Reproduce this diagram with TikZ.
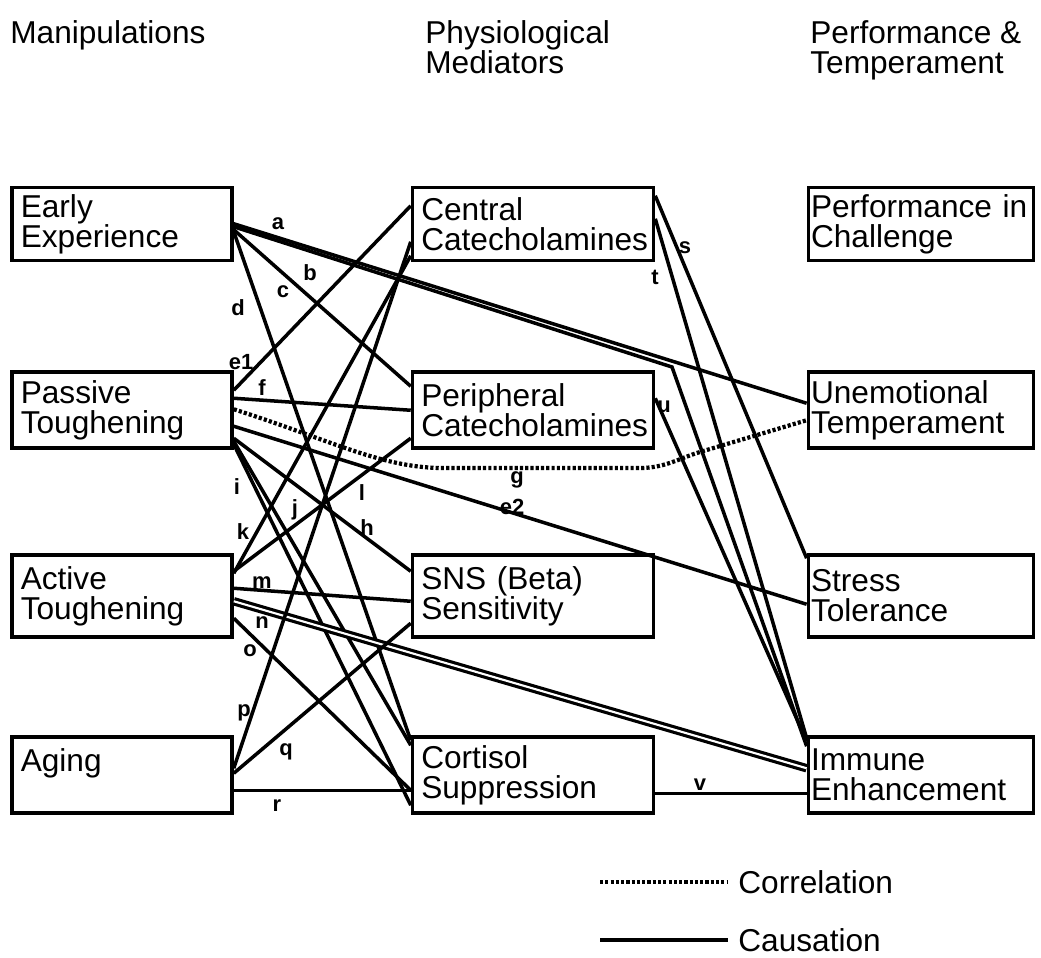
\documentclass[tikz,border=0pt]{standalone}
\usepackage{fontspec}
\setmainfont{Liberation Sans}
\usetikzlibrary{calc}

\begin{document}
\begin{tikzpicture}[
	x=0.02cm, y=-0.02cm,
	every node/.style={font=\fontsize{18}{17}\selectfont},
	box/.style={draw, line width=2pt, inner xsep=5pt, inner ysep=0pt, minimum height=1.52cm, align=left},
	leftbox/.style={box, text width=4.05cm},
	midbox/.style={box, text width=4.47cm},
	rightbox/.style={box, inner xsep=1.5pt, text width=4.4cm},
	head/.style={anchor=north west, inner sep=0pt, align=left},
	lab/.style={font=\fontsize{12.5}{12}\selectfont\bfseries, inner sep=0pt},
	cause/.style={line width=2pt},
	correl/.style={line width=2.4pt, dash pattern=on 1.8pt off 1.2pt},
] 
\useasboundingbox (0,0) rectangle (1041,957);

% column heads
\node[head] (manip) at (10,20) {Manipulations};
\node[head] (physio) at (425,20) {Physiological\\Mediators};
\node[head] (perfhead) at (810,20) {Performance \&\\Temperament};

% manipulations
\node[leftbox, minimum height=1.46cm] (early) at (122,224) {Early\\Experience};
\node[leftbox] (passive) at (122,410) {Passive\\Toughening};
\node[leftbox, minimum height=1.64cm] (active) at (122,596) {Active\\Toughening};
\node[leftbox] (aging) at (122,775) {Aging\\~};

% mediators
\node[midbox, minimum height=1.46cm] (central) at (533,224) {Central\\Catecholamines};
\node[midbox] (peri) at (533,410) {Peripheral\\Catecholamines};
\node[midbox, minimum height=1.64cm] (sns) at (533,596) {SNS (Beta)\\Sensitivity};
\node[midbox] (cortisol) at (533,775) {Cortisol\\Suppression};

% outcomes
\node[rightbox, minimum height=1.46cm] (perf) at (921,224) {Performance in\\Challenge};
\node[rightbox] (unemo) at (921,410) {Unemotional\\Temperament};
\node[rightbox, minimum height=1.64cm] (stress) at (921,596) {Stress\\Tolerance};
\node[rightbox] (immune) at (921,775) {Immune\\Enhancement};

% early experience
\coordinate (bbend) at (672,367);
\draw[cause] ($(early.north east)+(0,38)$) -- ($(unemo.north west)+(0,33)$);
\draw[cause] ($(early.north east)+(0,41)$) -- (bbend) -- ($(immune.north west)+(0,11)$);
\draw[cause] ($(early.north east)+(0,44)$) -- ($(peri.north west)+(0,16)$);
\draw[cause] ($(early.north east)+(0,46)$) -- ($(cortisol.north west)+(0,5)$);

% passive toughening
\draw[cause] ($(passive.north east)+(0,20)$) -- ($(central.north west)+(0,20)$);
\draw[cause] ($(passive.north east)+(0,28)$) -- ($(peri.north west)+(0,40)$);
\draw[correl] ($(passive.north east)+(0,39)$) .. controls (330,440) and (380,467) .. (440,468) -- (640,468) .. controls (665,468) and (680,458) .. (700,452) -- ($(unemo.north west)+(0,50)$);
\draw[cause] ($(passive.north east)+(0,56)$) -- ($(stress.north west)+(0,51)$);
\draw[cause] ($(passive.north east)+(0,68)$) -- ($(sns.north west)+(0,18)$);
\draw[cause] ($(passive.north east)+(0,71)$) -- ($(cortisol.north west)+(0,10)$);
\draw[cause] ($(passive.north east)+(0,74)$) -- ($(cortisol.north west)+(0,70)$);

% active toughening
\draw[cause] ($(active.north east)+(0,20)$) -- ($(central.north west)+(0,70)$);
\draw[cause] ($(active.north east)+(0,18)$) -- ($(peri.north west)+(0,68)$);
\draw[cause] ($(active.north east)+(0,35)$) -- ($(sns.north west)+(0,48)$);
\draw[cause, double, double distance=1.2pt, line width=1.8pt] ($(active.north east)+(0,48)$) -- ($(immune.north west)+(0,33)$);
\draw[cause] ($(active.north east)+(0,65)$) -- ($(cortisol.north west)+(0,55)$);

% aging
\draw[cause] ($(aging.north east)+(0,33)$) -- ($(central.north west)+(0,56)$);
\draw[cause] ($(aging.north east)+(0,38)$) -- ($(sns.north west)+(0,70)$);
\draw[cause] ($(aging.north east)+(0,55)$) -- ($(cortisol.north west)+(0,55)$);

% mediators to outcomes
\draw[cause] ($(central.north east)+(0,10)$) -- ($(stress.north west)+(0,5)$);
\draw[cause] ($(central.north east)+(0,33)$) -- ($(immune.north west)+(0,3)$);
\draw[cause] ($(peri.north east)+(0,28)$) -- ($(immune.north west)+(0,6)$);
\draw[cause] ($(cortisol.north east)+(0,58)$) -- ($(immune.north west)+(0,58)$);

% path letters
\node[lab] (la) at (278,224) {a};
\node[lab] (lb) at (310,273) {b};
\node[lab] (lc) at (283,292) {c};
\node[lab] (ld) at (238,308) {d};
\node[lab] (le1) at (241,362) {e1};
\node[lab] (lf) at (262,388) {f};
\node[lab] (lg) at (517,480) {g};
\node[lab] (le2) at (512,507) {e2};
\node[lab] (lh) at (367,528) {h};
\node[lab] (li) at (237,487) {i};
\node[lab] (lj) at (295,510) {j};
\node[lab] (lk) at (243,532) {k};
\node[lab] (ll) at (362,493) {l};
\node[lab] (lm) at (262,583) {m};
\node[lab] (ln) at (262,623) {n};
\node[lab] (lo) at (250,651) {o};
\node[lab] (lp) at (244,713) {p};
\node[lab] (lq) at (286,752) {q};
\node[lab] (lr) at (277,806) {r};
\node[lab] (ls) at (685,248) {s};
\node[lab] (lt) at (655,277) {t};
\node[lab] (lu) at (664,407) {u};
\node[lab] (lv) at (700,785) {v};

% legend
\node[anchor=west, inner sep=0pt] (corlab) at (738,882) {Correlation};
\node[anchor=west, inner sep=0pt] (caulab) at (738,940) {Causation};
\coordinate (corstart) at (600,882);
\coordinate (caustart) at (600,940);
\draw[correl] (corstart) -- ($(corlab.west)+(-10,0)$);
\draw[cause, line width=2.6pt] (caustart) -- ($(caulab.west)+(-10,0)$);
\end{tikzpicture}
\end{document}
